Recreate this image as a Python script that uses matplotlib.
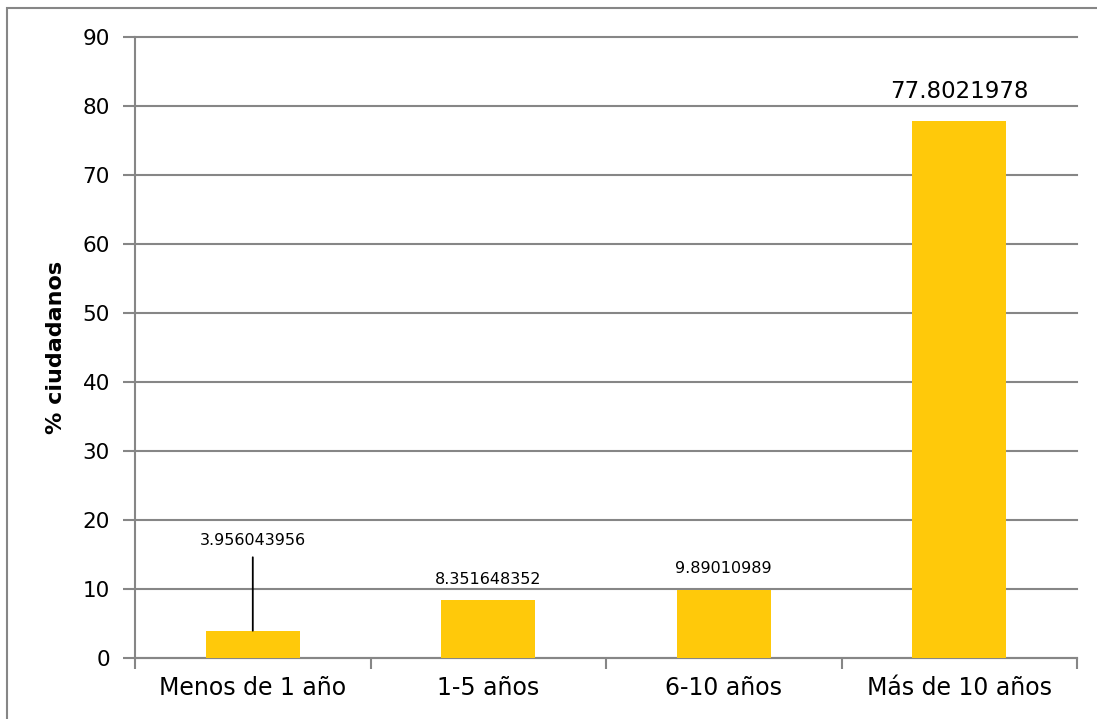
import matplotlib.pyplot as plt
import matplotlib.patches as mpatches

categorias = ['Menos de 1 año', '1-5 años', '6-10 años', 'Más de 10 años']
valores = [3.956043956, 8.351648352, 9.89010989, 77.8021978]
etiquetas = ['3.956043956', '8.351648352', '9.89010989', '77.8021978']

plt.rcParams['font.family'] = ['DejaVu Sans']

fig = plt.figure(figsize=(10.97, 7.19), dpi=100)
ax = fig.add_axes([0.1231, 0.0848, 0.8587, 0.8637])

gris = '#868686'
x = range(len(categorias))
ax.bar(x, valores, width=0.4, color='#FFC90A', zorder=3)

ax.set_xlim(-0.5, 3.5)
ax.set_ylim(0, 90)
ax.set_yticks(range(0, 91, 10))
ax.yaxis.grid(True, color=gris, linewidth=1.5, zorder=0)
for linea in ax.get_ygridlines():
    linea.set_clip_on(False)

ax.set_xticks(list(x))
ax.set_xticklabels(categorias, fontsize=17)
ax.set_xticks([-0.5, 0.5, 1.5, 2.5, 3.5], minor=True)
ax.tick_params(axis='x', which='major', length=0, pad=13)
ax.tick_params(axis='x', which='minor', length=8, width=1.5, color=gris)
ax.tick_params(axis='y', length=9, width=1.5, color=gris, labelsize=15.5, pad=9)

for s in ['top', 'right']:
    ax.spines[s].set_visible(False)
for s in ['left', 'bottom']:
    ax.spines[s].set_color(gris)
    ax.spines[s].set_linewidth(1.5)

ax.set_ylabel('% ciudadanos', fontsize=16, fontweight='bold', labelpad=12)

# etiquetas de datos
ax.annotate(etiquetas[0], xy=(0, valores[0]), xytext=(0, 17.1),
            ha='center', va='center', fontsize=11.5,
            arrowprops=dict(arrowstyle='-', color='black', lw=1.3, shrinkA=5, shrinkB=0))
for i in [1, 2]:
    ax.annotate(etiquetas[i], xy=(i, valores[i]), xytext=(0, 10),
                textcoords='offset points', ha='center', va='bottom', fontsize=11.5)
ax.annotate(etiquetas[3], xy=(3, valores[3]), xytext=(0, 13),
            textcoords='offset points', ha='center', va='bottom', fontsize=16.5)

fig.patches.append(mpatches.Rectangle((0.0064, -0.05), 1.1, 1.039, transform=fig.transFigure,
                                      fill=False, edgecolor=gris, linewidth=1.5))

fig.savefig('out.png', dpi=100)
